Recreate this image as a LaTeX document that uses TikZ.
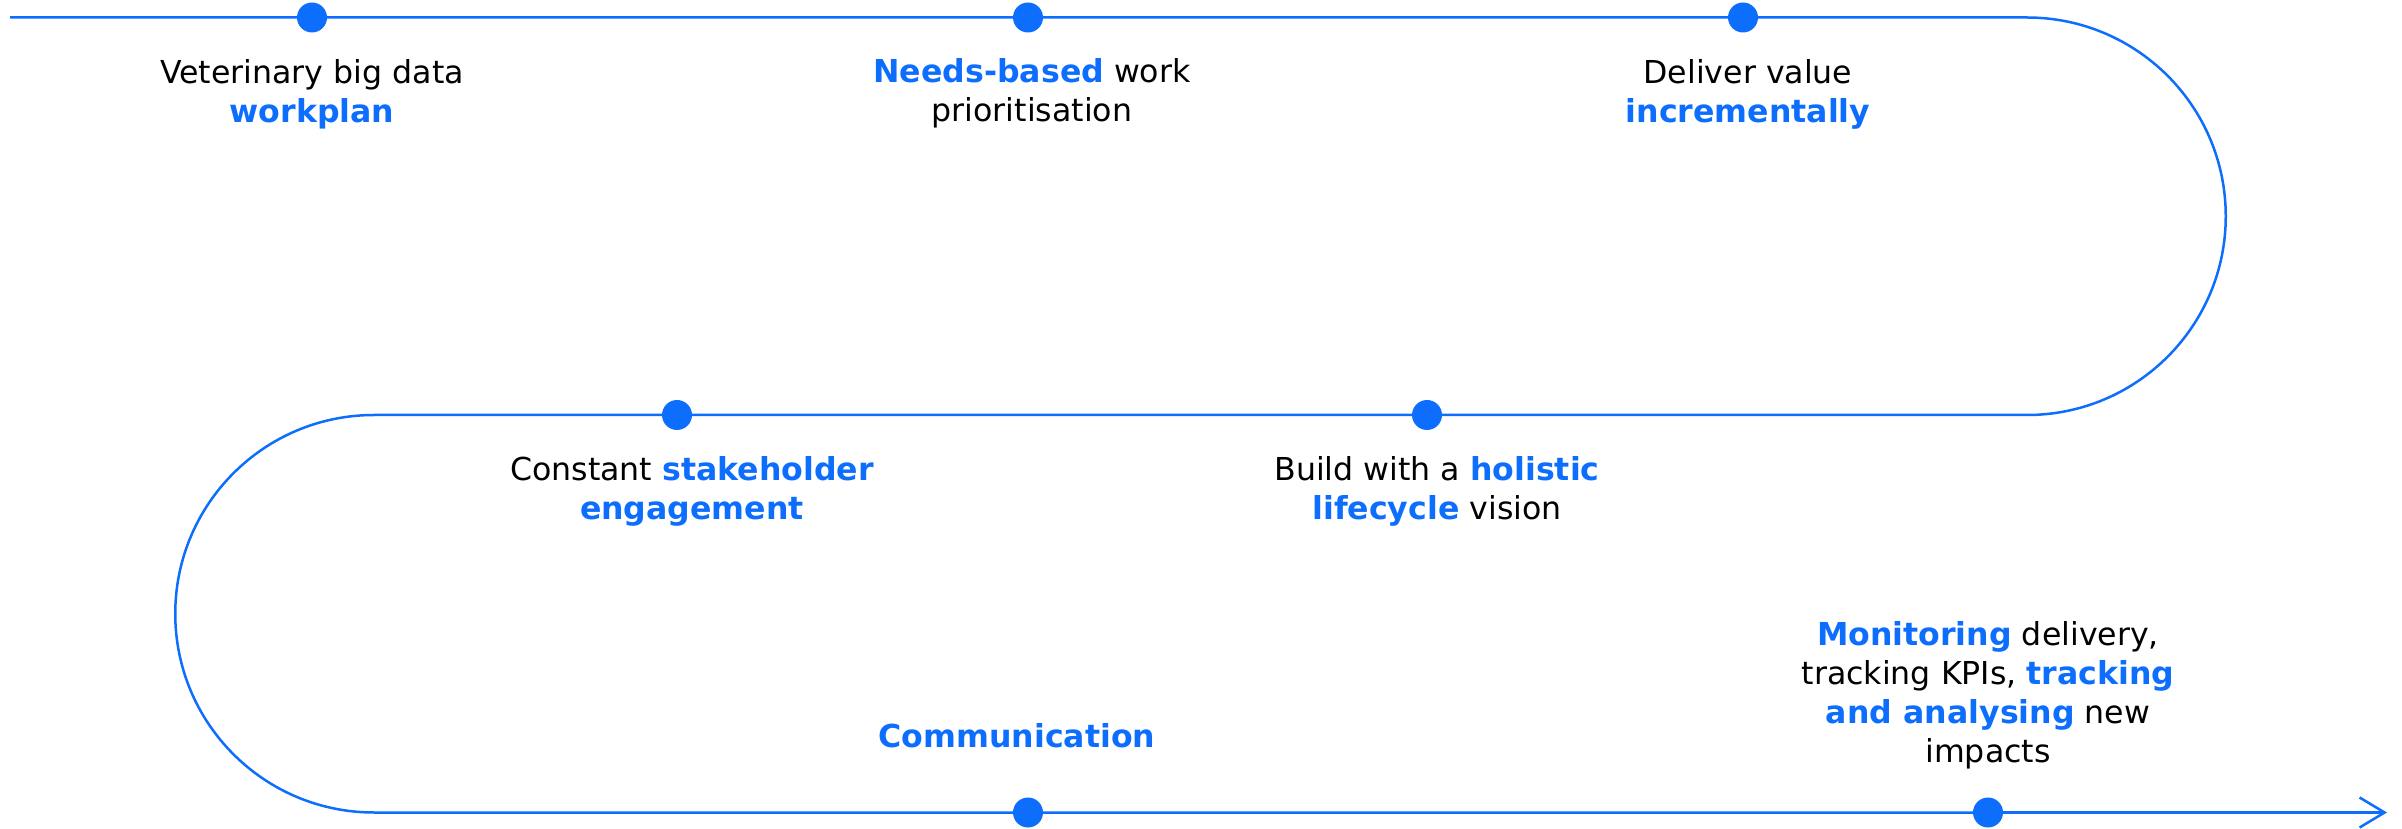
\documentclass[tikz,border=0pt]{standalone}
\usepackage{fontspec}
\setmainfont{DejaVu Sans}
\usetikzlibrary{arrows.meta}
\definecolor{vblue}{RGB}{13,110,253}
\newcommand{\blueword}[1]{\textbf{\color{vblue}#1}}
\begin{document}
\begin{tikzpicture}[x=1pt,y=1pt,
  dot/.style={circle,fill=vblue,inner sep=0pt,minimum size=30pt},
  pathline/.style={draw=vblue,line width=2.5pt},
  labeltext/.style={align=center,anchor=north,inner sep=0pt,text=black,font=\fontsize{31.6}{39}\selectfont}]
\useasboundingbox (0,0) rectangle (2402,828);
% dots
\node[dot] (d1) at (312,810.5) {};
\node[dot] (d2) at (1028,810.5) {};
\node[dot] (d3) at (1743,810.5) {};
\node[dot] (d4) at (677,413) {};
\node[dot] (d5) at (1427,413) {};
\node[dot] (d6) at (1028,15.5) {};
\node[dot] (d7) at (1988,15.5) {};
\coordinate (start) at (10,810.5);
\coordinate (rtop) at (2027,810.5);
\coordinate (ltop) at (374,413);
\coordinate (finish) at (2387,15.5);
% path
\draw[pathline] (start) -- (d1) -- (d2) -- (d3) -- (rtop)
  arc[start angle=90,end angle=-90,radius=198.75] -- (d5) -- (d4) -- (ltop)
  arc[start angle=90,end angle=270,radius=198.75] -- (d6) -- (d7);
\draw[pathline,-{Straight Barb[length=25pt,width=30pt]}] (d7) -- (finish);
% labels
\node[labeltext] (t1) at (312,769) {Veterinary big data\\\blueword{workplan}};
\node[labeltext] (t2) at (1032,770) {\blueword{Needs-based} work\\prioritisation};
\node[labeltext] (t3) at (1748,769) {Deliver value\\\blueword{incrementally}};
\node[labeltext] (t4) at (692,372) {Constant \blueword{stakeholder}\\\blueword{engagement}};
\node[labeltext] (t5) at (1437,372) {Build with a \blueword{holistic}\\\blueword{lifecycle} vision};
\node[labeltext] (t6) at (1017,105) {\blueword{Communication}};
\node[labeltext] (t7) at (1988,207) {\blueword{Monitoring} delivery,\\tracking KPIs, \blueword{tracking}\\\blueword{and analysing} new\\impacts};
\end{tikzpicture}
\end{document}
